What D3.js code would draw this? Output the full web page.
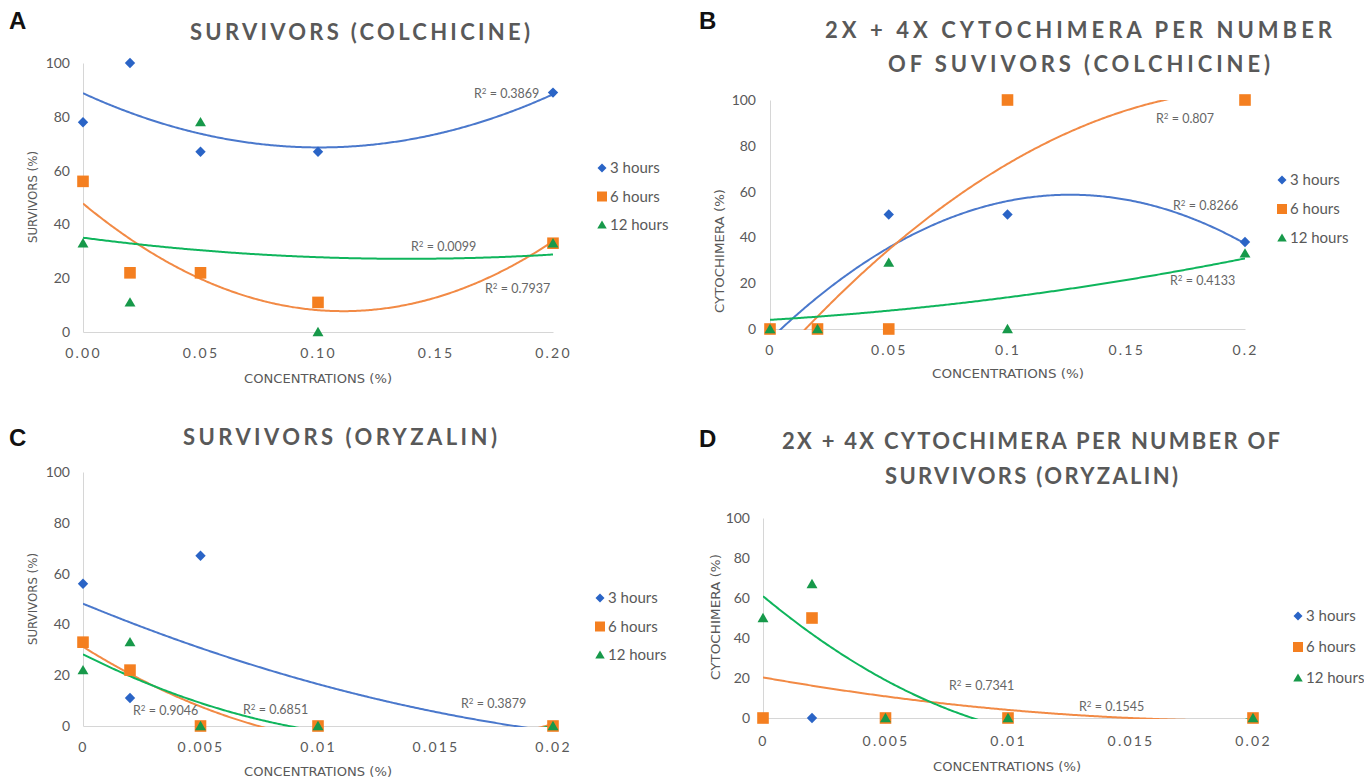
<!DOCTYPE html>
<html><head><meta charset="utf-8">
<script src="https://cdn.jsdelivr.net/npm/d3@7"></script>
<style>body{margin:0;background:#fff} svg{display:block}</style>
</head><body>
<svg id="chart" width="1364" height="778"></svg>
<script>
// ---------- DATA ----------
const seriesNames = ["3 hours", "6 hours", "12 hours"];
const concColchicine = [0, 0.02, 0.05, 0.1, 0.2];
const concOryzalin = [0, 0.002, 0.005, 0.01, 0.02];

// A: survivors (colchicine)
const survColchicine3h = [78, 100, 67, 67, 89];
const survColchicine6h = [56, 22, 22, 11, 33];
const survColchicine12h = [33, 11, 78, 0, 33];
const r2SurvColchicine = ["0.3869", "0.7937", "0.0099"];

// B: cytochimera (colchicine)
const cytoColchicine3h = [0, 0, 50, 50, 38];
const cytoColchicine6h = [0, 0, 0, 100, 100];
const cytoColchicine12h = [0, 0, 29, 0, 33];
const r2CytoColchicine = ["0.8266", "0.807", "0.4133"];

// C: survivors (oryzalin)
const survOryzalin3h = [56, 11, 67, 0, 0];
const survOryzalin6h = [33, 22, 0, 0, 0];
const survOryzalin12h = [22, 33, 0, 0, 0];
const r2SurvOryzalin = ["0.3879", "0.9046", "0.6851"];

// D: cytochimera (oryzalin)
const cytoOryzalin3h = [0, 0, 0, 0, 0];
const cytoOryzalin6h = [0, 50, 0, 0, 0];
const cytoOryzalin12h = [50, 67, 0, 0, 0];
const r2CytoOryzalin = [null, "0.1545", "0.7341"];

const yTickValues = [0, 20, 40, 60, 80, 100];
const xTickValuesColchicine = [0, 0.05, 0.1, 0.15, 0.2];
const xTickLabelsA = ["0.00", "0.05", "0.10", "0.15", "0.20"];
const xTickLabelsB = ["0", "0.05", "0.1", "0.15", "0.2"];
const xTickValuesOryzalin = [0, 0.005, 0.01, 0.015, 0.02];
const xTickLabelsOryzalin = ["0", "0.005", "0.01", "0.015", "0.02"];

// ---------- STYLE ----------
const markerColors = ["#2a64c6", "#f47f20", "#17994a"];
const lineColors = ["#4a78cc", "#f28a45", "#0fb55c"];
const textGray = "#595959";
const axisGray = "#d6d6d6";
const condensed = "'Liberation Sans Narrow','DejaVu Sans Condensed',Lato,sans-serif";
const lato = "Lato,'Open Sans',sans-serif";

const svg = d3.select("#chart");

function polyfit2(xs, ys) {
  const xm = d3.max(xs) || 1;
  const u = xs.map(v => v / xm);
  const S = k => d3.sum(u, v => Math.pow(v, k));
  const T = k => d3.sum(u, (v, i) => Math.pow(v, k) * ys[i]);
  const M = [[S(0), S(1), S(2), T(0)], [S(1), S(2), S(3), T(1)], [S(2), S(3), S(4), T(2)]];
  for (let i = 0; i < 3; i++) {
    let p = i;
    for (let r = i + 1; r < 3; r++) if (Math.abs(M[r][i]) > Math.abs(M[p][i])) p = r;
    [M[i], M[p]] = [M[p], M[i]];
    for (let r = 0; r < 3; r++) {
      if (r === i) continue;
      const f = M[r][i] / M[i][i];
      for (let c = i; c < 4; c++) M[r][c] -= f * M[i][c];
    }
  }
  const a = M[0][3] / M[0][0], b = M[1][3] / M[1][1], c = M[2][3] / M[2][2];
  return x => { const v = x / xm; return a + b * v + c * v * v; };
}

function markerPath(type, s) {
  if (type === 0) return `M0,${-s}L${s},0L0,${s}L${-s},0Z`;
  if (type === 1) return `M${-s},${-s}H${s}V${s}H${-s}Z`;
  return `M0,${-s}L${s * 1.05},${s * 0.8}H${-s * 1.05}Z`;
}

function drawPanel(cfg, idx) {
  const g = svg.append("g");
  const x = d3.scaleLinear().domain([0, cfg.xMax]).range([cfg.x0, cfg.x1]);
  const y = d3.scaleLinear().domain([0, 100]).range([cfg.yBot, cfg.yTop]);

  // panel letter
  g.append("text").attr("x", cfg.letterX).attr("y", cfg.letterY)
    .attr("font-family", "'Liberation Sans',Arial,sans-serif").attr("font-weight", 700)
    .attr("font-size", 24).attr("fill", "#111").text(cfg.letter);

  // title
  cfg.title.forEach(t => {
    g.append("text").attr("x", (t.x0 + t.x1) / 2).attr("y", t.y)
      .attr("text-anchor", "middle").attr("font-family", lato)
      .attr("font-weight", 700).attr("font-size", 22).attr("fill", textGray)
      .attr("textLength", t.x1 - t.x0).attr("lengthAdjust", "spacing").text(t.text);
  });

  // axes
  const ya = g.append("g").attr("transform", `translate(${cfg.x0},0)`)
    .call(d3.axisLeft(y).tickValues(yTickValues).tickSize(0).tickPadding(cfg.yPad));
  ya.select(".domain").attr("stroke", axisGray);
  ya.selectAll("text").attr("font-family", lato).attr("font-size", 14).attr("fill", textGray);

  const xa = g.append("g").attr("transform", `translate(0,${cfg.yBot})`)
    .call(d3.axisBottom(x).tickValues(cfg.xTicks).tickFormat((d, i) => cfg.xLabels[i]).tickSize(0).tickPadding(cfg.xPad));
  xa.select(".domain").attr("stroke", axisGray);
  xa.selectAll("text").attr("font-family", lato).attr("font-size", 14).attr("fill", textGray)
    .attr("letter-spacing", "2.2px");

  // axis titles
  g.append("text").attr("x", cfg.xTitle[0]).attr("y", cfg.xTitle[1]).attr("text-anchor", "middle")
    .attr("font-family", condensed).attr("font-size", 13).attr("fill", textGray)
    .attr("textLength", cfg.xTitle[2]).attr("lengthAdjust", "spacingAndGlyphs").text("CONCENTRATIONS (%)");
  g.append("text").attr("transform", `translate(${cfg.yTitle[0]},${cfg.yTitle[1]}) rotate(-90)`)
    .attr("text-anchor", "middle").attr("font-family", condensed).attr("font-size", 13)
    .attr("fill", textGray).attr("textLength", cfg.yTitle[2]).attr("lengthAdjust", "spacingAndGlyphs")
    .text(cfg.yTitleText);

  // clip
  const clipId = "clip" + idx;
  svg.append("clipPath").attr("id", clipId).append("rect")
    .attr("x", cfg.x0).attr("y", cfg.yTop).attr("width", cfg.x1 - cfg.x0).attr("height", cfg.yBot - cfg.yTop + 1);

  // trendlines (2nd-order polynomial least-squares fit of each series)
  const line = d3.line().x(d => x(d[0])).y(d => y(d[1]));
  cfg.series.forEach((ys, si) => {
    if (!cfg.r2[si]) return;
    const f = polyfit2(cfg.xs, ys);
    const xmin = d3.min(cfg.xs), xmax = d3.max(cfg.xs);
    const pts = d3.range(0, 301).map(k => { const xv = xmin + (xmax - xmin) * k / 300; return [xv, f(xv)]; });
    g.append("path").attr("clip-path", `url(#${clipId})`).attr("d", line(pts))
      .attr("fill", "none").attr("stroke", lineColors[si]).attr("stroke-width", 2);
  });

  // markers
  const sizes = [5.2, 5.8, 5.2];
  cfg.series.forEach((ys, si) => {
    g.append("g").selectAll("path").data(ys).join("path")
      .attr("transform", (d, i) => `translate(${x(cfg.xs[i])},${y(d)})`)
      .attr("d", markerPath(si, sizes[si])).attr("fill", markerColors[si]);
  });

  // R² labels
  cfg.r2.forEach((r, si) => {
    if (!r) return;
    const p = cfg.r2Pos[si];
    const t = g.append("text").attr("x", p[0]).attr("y", p[1]).attr("font-family", lato)
      .attr("font-size", 12.5).attr("fill", "#666");
    t.append("tspan").text("R");
    t.append("tspan").attr("font-size", 8).attr("dy", -4).text("2");
    t.append("tspan").attr("dy", 4).text(" = " + r);
  });

  // legend
  seriesNames.forEach((n, si) => {
    const ly = cfg.legend[1] + si * cfg.legend[2];
    g.append("path").attr("transform", `translate(${cfg.legend[0]},${ly})`)
      .attr("d", markerPath(si, [4.5, 5, 4.5][si])).attr("fill", markerColors[si]);
    g.append("text").attr("x", cfg.legend[0] + 8).attr("y", ly + 5)
      .attr("font-family", lato).attr("font-size", 15).attr("fill", textGray).text(n);
  });
}

const panels = [
  { letter: "A", letterX: 9, letterY: 29,
    title: [{ text: "SURVIVORS (COLCHICINE)", x0: 190, x1: 530, y: 40 }],
    xs: concColchicine, series: [survColchicine3h, survColchicine6h, survColchicine12h], r2: r2SurvColchicine,
    xMax: 0.2, x0: 83, x1: 553, yTop: 63, yBot: 332, yPad: 13, xPad: 16,
    xTicks: xTickValuesColchicine, xLabels: xTickLabelsA,
    xTitle: [318, 383, 148], yTitle: [37, 197, 92], yTitleText: "SURVIVORS (%)",
    r2Pos: [[474, 98], [485, 293], [411, 251]], legend: [602, 168, 28.5] },
  { letter: "B", letterX: 699, letterY: 29,
    title: [{ text: "2X + 4X CYTOCHIMERA PER NUMBER", x0: 825, x1: 1332, y: 38 },
            { text: "OF SUVIVORS (COLCHICINE)", x0: 888, x1: 1270, y: 72 }],
    xs: concColchicine, series: [cytoColchicine3h, cytoColchicine6h, cytoColchicine12h], r2: r2CytoColchicine,
    xMax: 0.2, x0: 770, x1: 1245, yTop: 100, yBot: 329, yPad: 14, xPad: 16,
    xTicks: xTickValuesColchicine, xLabels: xTickLabelsB,
    xTitle: [1008, 378, 152], yTitle: [724, 251, 124], yTitleText: "CYTOCHIMERA (%)",
    r2Pos: [[1173, 210], [1156, 123], [1170, 285]], legend: [1282, 180, 29] },
  { letter: "C", letterX: 9, letterY: 446,
    title: [{ text: "SURVIVORS (ORYZALIN)", x0: 183, x1: 497, y: 445 }],
    xs: concOryzalin, series: [survOryzalin3h, survOryzalin6h, survOryzalin12h], r2: r2SurvOryzalin,
    xMax: 0.02, x0: 83, x1: 553, yTop: 472, yBot: 726, yPad: 13, xPad: 16,
    xTicks: xTickValuesOryzalin, xLabels: xTickLabelsOryzalin,
    xTitle: [318, 776, 148], yTitle: [37, 599, 92], yTitleText: "SURVIVORS (%)",
    r2Pos: [[461, 708], [133, 715], [243, 714]], legend: [600, 598, 28.5] },
  { letter: "D", letterX: 699, letterY: 447,
    title: [{ text: "2X + 4X CYTOCHIMERA PER NUMBER OF", x0: 782, x1: 1280, y: 449 },
            { text: "SURVIVORS (ORYZALIN)", x0: 885, x1: 1178, y: 484 }],
    xs: concOryzalin, series: [cytoOryzalin3h, cytoOryzalin6h, cytoOryzalin12h], r2: r2CytoOryzalin,
    xMax: 0.02, x0: 763, x1: 1253, yTop: 518, yBot: 718, yPad: 13, xPad: 18,
    xTicks: xTickValuesOryzalin, xLabels: xTickLabelsOryzalin,
    xTitle: [1007, 771, 148], yTitle: [720, 617, 126], yTitleText: "CYTOCHIMERA (%)",
    r2Pos: [null, [1079, 711], [949, 690]], legend: [1298, 616, 31] }
];

panels.forEach((p, i) => drawPanel(p, i));
</script>
</body></html>
